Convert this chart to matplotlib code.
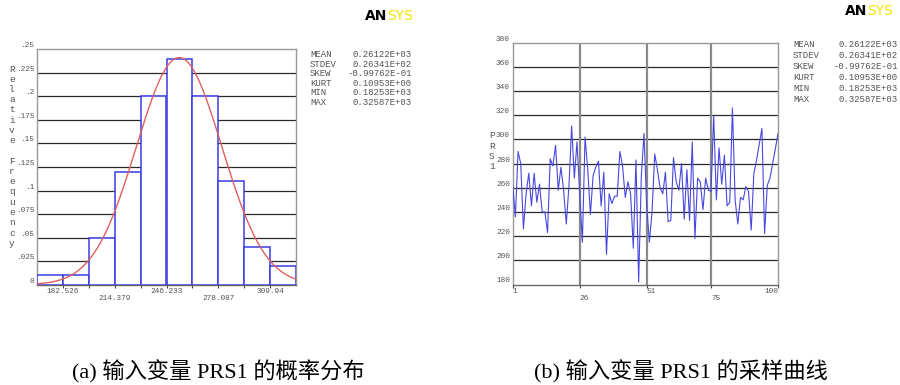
import numpy as np
import matplotlib
matplotlib.use("Agg")
import matplotlib.pyplot as plt

# ---------------- data ----------------
bin_edges_start = 166.5995
bin_width = 15.9265
rel_freq = [0.01, 0.01, 0.05, 0.12, 0.20, 0.24, 0.20, 0.11, 0.04, 0.02]
hist_xlabels = [182.526, 214.379, 246.233, 278.087, 309.94]
hist_yticks = [0, 0.025, 0.05, 0.075, 0.1, 0.125, 0.15, 0.175, 0.2, 0.225, 0.25]
hist_ylabels = ["0", ".025", ".05", ".075", ".1", ".125", ".15", ".175", ".2", ".225", ".25"]
curve_mean = 254.0
curve_std = 26.341

samples = [262, 236, 290, 280, 226, 255, 272, 245, 272, 248,
           263, 240, 240, 223, 284, 278, 295, 258, 277, 258,
           230, 262, 311, 268, 298, 255, 215, 302, 275, 238,
           270, 277, 282, 245, 273, 205, 255, 247, 253, 253,
           290, 278, 252, 265, 255, 210, 283, 182, 270, 305,
           245, 215, 240, 288, 275, 260, 255, 273, 232, 233,
           285, 265, 258, 280, 234, 275, 233, 298, 218, 268,
           265, 242, 268, 258, 257, 320, 250, 293, 263, 287,
           245, 248, 326, 250, 230, 252, 250, 261, 257, 225,
           272, 283, 296, 309, 222, 262, 268, 280, 292, 305]
line_xticks = [1, 26, 51, 75, 100]
line_yticks = [180, 200, 220, 240, 260, 280, 300, 320, 340, 360, 380]

stat_names = ["MEAN", "STDEV", "SKEW", "KURT", "MIN", "MAX"]
stat_values = ["0.26122E+03", "0.26341E+02", "-0.99762E-01",
               "0.10953E+00", "0.18253E+03", "0.32587E+03"]

caption_a = "(a) 输入变量 PRS1 的概率分布"
caption_b = "(b) 输入变量 PRS1 的采样曲线"

# ---------------- figure ----------------
W, H = 900, 385
fig = plt.figure(figsize=(9, 3.85), dpi=100)
fig.patch.set_facecolor("white")

mono = "Liberation Mono"
tick_col = "#555555"
grid_col = "#2a2a2a"
frame_col = "#999999"
tick_fs = 5.6


def fx(px):
    return px / W


def fy(py):
    return 1 - py / H


# ----- left: histogram -----
ax1 = fig.add_axes([fx(37), fy(284.7), fx(296) - fx(37), fy(49.3) - fy(284.7)])
edges = bin_edges_start + bin_width * np.arange(len(rel_freq) + 1)
ax1.bar(edges[:-1], rel_freq, width=bin_width, align="edge",
        facecolor="white", edgecolor="#3a3ae6", linewidth=1.1, zorder=3)
for y in hist_yticks[1:-1]:
    ax1.axhline(y, color=grid_col, lw=0.9, zorder=1)
xs = np.linspace(edges[0], edges[-1], 400)
pdf = bin_width * np.exp(-0.5 * ((xs - curve_mean) / curve_std) ** 2) / (curve_std * np.sqrt(2 * np.pi))
ax1.plot(xs, pdf, color="#e06060", lw=1.0, zorder=4)
ax1.set_xlim(edges[0], edges[-1])
ax1.set_ylim(0, 0.25)
ax1.set_yticks(hist_yticks)
ax1.set_yticklabels(hist_ylabels, fontsize=tick_fs, family=mono, color=tick_col)
for lab in ax1.get_yticklabels():
    lab.set_verticalalignment("bottom")
ax1.tick_params(axis="y", length=0, pad=2)
ax1.set_xticks(hist_xlabels)
ax1.set_xticklabels([("" if i % 2 == 0 else "\n") + f"{v:g}" for i, v in enumerate(hist_xlabels)],
                    fontsize=tick_fs, family=mono, color=tick_col, linespacing=1.05)
ax1.set_xticks(edges[2:-1:2], minor=True)
ax1.tick_params(axis="x", which="both", length=2, width=0.8, color="#444444", pad=0.5)
for s in ax1.spines.values():
    s.set_color(frame_col)
    s.set_linewidth(1.0)
ax1.spines["bottom"].set_color("#666666")
# vertical stacked y label
ylab = "Relative Frequency"
for i, ch in enumerate(ylab):
    fig.text(fx(12), fy(69 + i * 10.25), ch, family=mono, fontsize=6.8, color=tick_col,
             ha="center", va="center")

# ----- right: sample curve -----
ax2 = fig.add_axes([fx(512.7), fy(284.5), fx(778) - fx(512.7), fy(42.7) - fy(284.5)])
idx = np.arange(1, len(samples) + 1)
for y in line_yticks[1:-1]:
    ax2.axhline(y, color=grid_col, lw=0.9, zorder=1)
for xv in line_xticks[1:-1]:
    ax2.axvline(xv, color="#8a8a8a", lw=1.6, zorder=1)
ax2.plot(idx, samples, color="#4848e0", lw=0.8, zorder=3)
ax2.set_xlim(1, 100)
ax2.set_ylim(180, 380)
ax2.set_yticks(line_yticks)
ax2.set_yticklabels([str(v) for v in line_yticks], fontsize=tick_fs, family=mono, color=tick_col)
for lab in ax2.get_yticklabels():
    lab.set_verticalalignment("bottom")
ax2.tick_params(axis="y", length=0, pad=2)
ax2.set_xticks(line_xticks)
ax2.set_xticklabels([("" if i % 2 == 0 else "\n") + str(v) for i, v in enumerate(line_xticks)],
                    fontsize=tick_fs, family=mono, color=tick_col, linespacing=1.05)
xl = ax2.get_xticklabels()
for i, lab in enumerate(xl):
    lab.set_horizontalalignment("right" if i == len(xl) - 1 else "left")
ax2.tick_params(axis="x", length=2, width=0.8, color="#444444", pad=0.5)
for s in ax2.spines.values():
    s.set_color(frame_col)
    s.set_linewidth(1.0)
ax2.spines["bottom"].set_color("#666666")
for i, ch in enumerate("PRS1"):
    fig.text(fx(492), fy(136 + i * 10.3), ch, family=mono, fontsize=6.8, color=tick_col,
             ha="center", va="center")

# ----- statistics blocks -----
def stats_block(x_name, x_val_right, y0, dy):
    for i, (n, v) in enumerate(zip(stat_names, stat_values)):
        yb = round(y0 + i * dy + 3)
        fig.text(fx(x_name), fy(yb), n, family=mono, fontsize=6.5,
                 color=tick_col, ha="left", va="baseline")
        fig.text(fx(x_val_right), fy(yb), v, family=mono, fontsize=6.5,
                 color=tick_col, ha="right", va="baseline")


stats_block(310, 412, 54, 9.6)
stats_block(793, 898, 44, 11.0)


# ----- ANSYS logos -----
def logo(xb, yc):
    fig.text(fx(xb), fy(yc), "AN", family="DejaVu Sans", fontweight="bold",
             fontsize=10, color="black", ha="right", va="center")
    fig.text(fx(xb), fy(yc), "SYS", family="DejaVu Sans", fontsize=10,
             color="#f2e600", ha="left", va="center")


logo(387, 16)
logo(867, 11)

# ----- captions -----
cap_font = ["Liberation Serif", "Noto Sans CJK SC"]
fig.text(fx(218), fy(372), caption_a, family=cap_font, fontsize=16, color="black",
         ha="center", va="center")
fig.text(fx(681), fy(372), caption_b, family=cap_font, fontsize=16, color="black",
         ha="center", va="center")

fig.savefig("out.png", dpi=100, facecolor="white")
